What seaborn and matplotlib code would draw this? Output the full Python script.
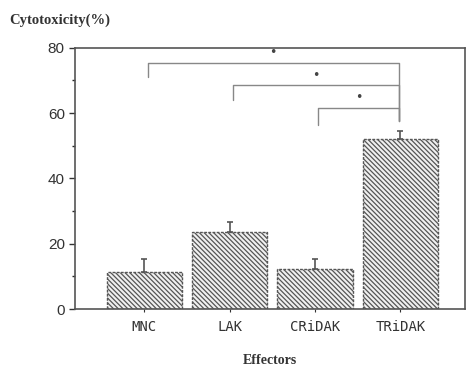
import numpy as np
import pandas as pd
import matplotlib
matplotlib.use("Agg")
import matplotlib.pyplot as plt
import seaborn as sns
from matplotlib.ticker import MultipleLocator

effectors = ["MNC", "LAK", "CRiDAK", "TRiDAK"]
cytotoxicity = [11.3, 23.5, 12.2, 52.0]
error_up = [4.0, 3.2, 3.2, 2.4]

# significance brackets: (left group, right group, bracket height, left leg end, right leg end)
sig_pairs = [(0, 3, 75.5, 71.0, 57.5), (1, 3, 68.6, 64.0, 57.5), (2, 3, 61.7, 56.5, 57.5)]
sig_marks = ["•", "•", "•"]

df = pd.DataFrame({"Effectors": effectors, "Cytotoxicity": cytotoxicity})

sns.set_style("white")
plt.rcParams["hatch.color"] = "#a0a0a0"
plt.rcParams["hatch.linewidth"] = 0.9

fig = plt.figure(figsize=(4.67, 3.68), dpi=100)
ax = fig.add_axes([0.161, 0.160, 0.835, 0.710])

sns.barplot(data=df, x="Effectors", y="Cytotoxicity", color="#f0f0f0", width=0.88,
            edgecolor="#555555", linewidth=1.0, ax=ax)
for p in ax.patches:
    p.set_hatch("\\" * 7)
    p.set_linestyle((0, (2, 1)))

ax.errorbar(range(len(effectors)), cytotoxicity,
            yerr=[np.zeros(len(error_up)), error_up],
            fmt="none", ecolor="#555555", elinewidth=1.2, capsize=2, capthick=1.2)

for (a, b, h, la, lb), m in zip(sig_pairs, sig_marks):
    xa, xb = a + 0.04, b - 0.02
    ax.plot([xa, xa, xb, xb], [la, h, h, lb], color="#888888", lw=1.0)
    ax.text((xa + xb) / 2, h + 1.0, m, ha="center", va="bottom", fontsize=9,
            color="#444444")

ax.set_xlim(-0.81, 3.76)
ax.set_ylim(0, 80)
ax.yaxis.set_major_locator(MultipleLocator(20))
ax.yaxis.set_minor_locator(MultipleLocator(10))
ax.tick_params(axis="y", which="major", direction="out", length=4, width=1,
               labelsize=11, left=True, colors="#333333")
ax.tick_params(axis="y", which="minor", direction="out", length=2.5, width=1, left=True)
ax.tick_params(axis="x", direction="out", length=2, bottom=True, labelsize=10,
               pad=6, colors="#333333")
for lab in ax.get_xticklabels():
    lab.set_fontfamily("DejaVu Sans Mono")
for lab in ax.get_yticklabels():
    lab.set_fontfamily("Liberation Sans")

for s in ax.spines.values():
    s.set_color("#555555")
    s.set_linewidth(1.2)

ax.set_xlabel("Effectors", fontfamily="Liberation Serif", fontweight="bold",
              fontsize=10, labelpad=14, color="#333333")
ax.set_ylabel("")
fig.text(0.02, 0.935, "Cytotoxicity(%)", fontfamily="Liberation Serif",
         fontweight="bold", fontsize=10.5, color="#333333")

fig.savefig("out.png", dpi=100)
